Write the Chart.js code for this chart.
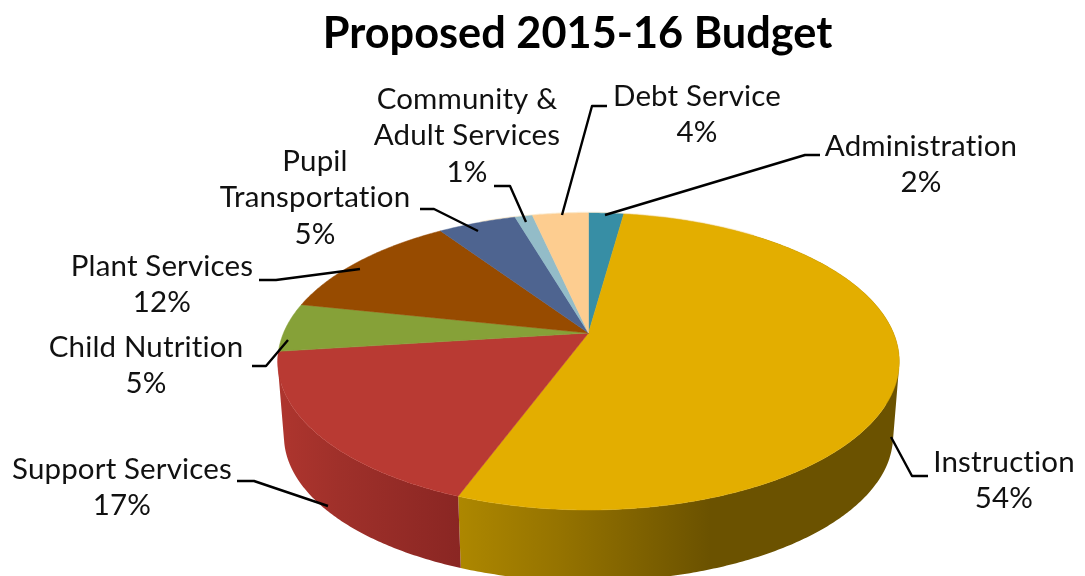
<!DOCTYPE html>
<html><head><meta charset="utf-8">
<style>html,body{margin:0;padding:0;background:#fff;overflow:hidden}canvas{display:block}</style>
<script src="https://cdn.jsdelivr.net/npm/chart.js@4"></script></head>
<body><canvas id="c" width="1085" height="576"></canvas>
<script>
const categories = ['Administration','Instruction','Support Services','Child Nutrition','Plant Services','Pupil Transportation','Community & Adult Services','Debt Service'];
const values = [2.2,53.5,17.3,5.3,12.2,4.9,1.1,3.5];
const topColors = ['#378EA5','#E3AE00','#B93A33','#86A138','#974B00','#4E6490','#93BCC8','#FDCD90'];
const labelLines = [['Administration'],['Instruction'],['Support Services'],['Child Nutrition'],['Plant Services'],['Pupil','Transportation'],['Community &','Adult Services'],['Debt Service']];
const labelCenters = [[921,146],[1004,462],[122,469],[146,347],[162,266],[315,161],[467,99],[697,96]];
const leaders = [
 [[605,215],[805,155],[820,155]],
 [[891,437],[912,476],[928,476]],
 [[237,481],[254,481],[328,506]],
 [[252,366],[266,366],[288,340]],
 [[259,280],[276,280],[360,269]],
 [[420,209],[434,209],[478,231]],
 [[494,186],[510,186],[526,222]],
 [[607,106],[592,106],[562,215]]
];
const wallStops = {1:[[460,'#AD8700'],[560,'#957300'],[710,'#6B5200'],[900,'#6B5200']],2:[[280,'#AE352E'],[340,'#9F302A'],[460,'#8A2623']]};
const geo = {cx:588.5, cy:333, rx:305, ry:143, c:0.192, s:0.98, d:75};
function project(a, low){
  const u=Math.cos(a), v=Math.sin(a), w=1-geo.c*v;
  let X=geo.rx*u/w, Y=geo.ry*v/w;
  if(low){X*=geo.s; Y=Y*geo.s+geo.d;}
  return [geo.cx+X, geo.cy+Y];
}
function rim(ctx,a1,a2,low,first){
  const n=Math.max(2,Math.ceil(Math.abs(a2-a1)/0.01));
  for(let i=0;i<=n;i++){
    const p=project(a1+(a2-a1)*i/n,low);
    if(i===0&&first)ctx.moveTo(p[0],p[1]);else ctx.lineTo(p[0],p[1]);
  }
}
function wallPath(ctx,a1,a2){
  const n=Math.ceil((a2-a1)/0.01);
  ctx.beginPath();
  for(let i=0;i<n;i++){
    const b1=a1+(a2-a1)*i/n, b2=a1+(a2-a1)*(i+1)/n;
    let q=[project(b1,false),project(b2,false),project(b2,true),project(b1,true)];
    let area=0;
    q.forEach((p,k)=>{const r=q[(k+1)%4];area+=p[0]*r[1]-r[0]*p[1];});
    if(area<0)q.reverse();
    q.forEach((p,k)=>k?ctx.lineTo(p[0],p[1]):ctx.moveTo(p[0],p[1]));
    ctx.closePath();
  }
}
const pie3d = {
  id:'pie3d',
  beforeDatasetDraw(chart,args){
    const ctx=chart.ctx, arcs=args.meta.data;
    ctx.save();
    ctx.filter='blur(0.6px)';
    arcs.forEach((el,i)=>{
      const st=wallStops[i]; if(!st)return;
      const xs=st.map(s=>s[0]), x0=xs[0], x1=xs[xs.length-1];
      const g=ctx.createLinearGradient(x0,0,x1,0);
      st.forEach(s=>g.addColorStop((s[0]-x0)/(x1-x0),s[1]));
      ctx.fillStyle=g;
      wallPath(ctx,el.startAngle,el.endAngle);
      ctx.fill('nonzero');
    });
    ctx.strokeStyle='rgba(250,232,200,0.7)'; ctx.lineWidth=2.5;
    ctx.beginPath(); rim(ctx,-2.0,-0.9,false,true); ctx.stroke();
    arcs.forEach((el,i)=>{
      ctx.fillStyle=topColors[i]; ctx.strokeStyle=topColors[i]; ctx.lineWidth=0.5;
      ctx.beginPath();
      ctx.moveTo(geo.cx,geo.cy);
      rim(ctx,el.startAngle,el.endAngle,false,false);
      ctx.closePath(); ctx.fill(); ctx.stroke();
    });
    ctx.restore();
    return false;
  },
  afterDraw(chart){
    const ctx=chart.ctx;
    ctx.save();
    ctx.strokeStyle='#000'; ctx.lineWidth=2.4; ctx.lineJoin='round';
    leaders.forEach(l=>{
      ctx.beginPath();
      l.forEach((p,i)=>i?ctx.lineTo(p[0],p[1]):ctx.moveTo(p[0],p[1]));
      ctx.stroke();
    });
    ctx.fillStyle='#111'; ctx.font='29.5px Lato'; ctx.letterSpacing='0.15px'; ctx.textAlign='center'; ctx.textBaseline='middle';
    categories.forEach((name,i)=>{
      const [x,y]=labelCenters[i];
      const lines=labelLines[i].concat([Math.round(values[i])+'%']);
      lines.forEach((t,k)=>ctx.fillText(t,x,y+k*36.8));
    });
    ctx.restore();
  }
};
new Chart(document.getElementById('c'),{
  type:'pie',
  data:{labels:categories,datasets:[{data:values,backgroundColor:topColors,borderWidth:0}]},
  plugins:[pie3d],
  options:{
    responsive:false,animation:false,devicePixelRatio:1,
    layout:{padding:{left:70,top:8}},
    plugins:{
      legend:{display:false},tooltip:{enabled:false},
      title:{display:true,fullSize:false,text:'Proposed 2015-16 Budget',color:'#000',font:{family:'Lato',weight:'bold',size:43.3},padding:0}
    }
  }
});
</script></body></html>
